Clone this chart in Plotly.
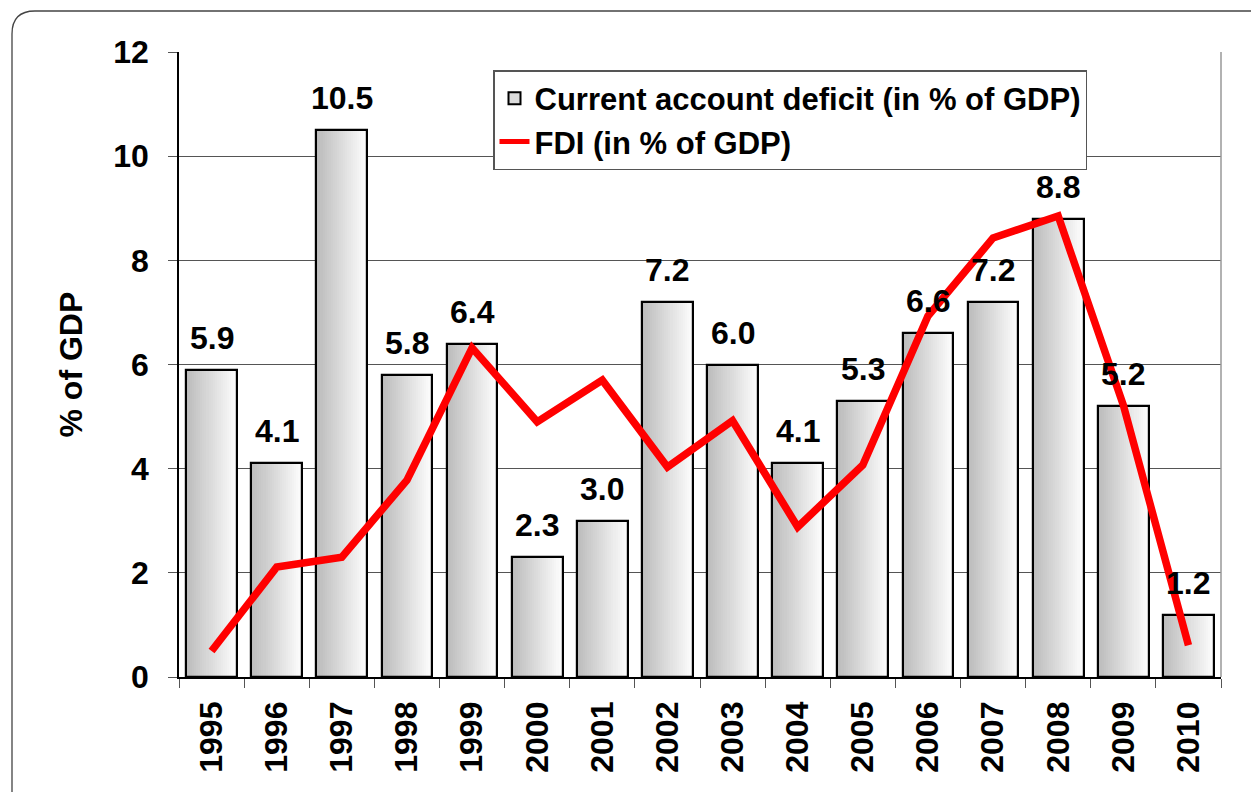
import plotly.graph_objects as go

years = ["1995", "1996", "1997", "1998", "1999", "2000", "2001", "2002",
         "2003", "2004", "2005", "2006", "2007", "2008", "2009", "2010"]
ca_deficit = [5.9, 4.1, 10.5, 5.8, 6.4, 2.3, 3.0, 7.2, 6.0, 4.1, 5.3, 6.6, 7.2, 8.8, 5.2, 1.2]
fdi = [0.5, 2.11, 2.3, 3.78, 6.32, 4.9, 5.7, 4.03, 4.92, 2.88, 4.07, 6.93, 8.43, 8.85, 5.22, 0.61]
y_ticks = [0, 2, 4, 6, 8, 10, 12]

FONT = "Liberation Sans, Arial, sans-serif"
W = 0.78       # bar width (category units)
N = 25         # gradient strips

# plot area in pixels
L, R, T, B = 179, 1221, 52, 677
WIDTH, HEIGHT = 1254, 792


def px(xp):
    return (xp - L) / (R - L)


def py(yp):
    return (B - yp) / (B - T)


fig = go.Figure()

# gradient bars: narrow vertical strips, dark (left) -> light (right)
dark, light = 188, 253
s = W / N
for k in range(N):
    t = k / (N - 1)
    c = round(dark + (light - dark) * t)
    fig.add_trace(go.Bar(
        x=years, y=ca_deficit,
        width=min(1.6 * s, W - k * s), offset=-W / 2 + k * s,
        marker=dict(color=f"rgb({c},{c},{c})", line=dict(width=0)),
        showlegend=False, hoverinfo="skip",
    ))

# outline
fig.add_trace(go.Bar(
    x=years, y=ca_deficit, width=W, offset=-W / 2,
    marker=dict(color="rgba(0,0,0,0)", line=dict(color="black", width=2.2)),
    showlegend=False, hoverinfo="skip",
))

# legend-only entry for bars
fig.add_trace(go.Bar(
    x=[years[0]], y=[None], name="Current account deficit (in % of GDP)",
    marker=dict(color="#dcdcdc", line=dict(color="black", width=1.5)),
    legendrank=1,
))

fig.add_trace(go.Scatter(
    x=years, y=fdi, mode="lines", name="FDI (in % of GDP)",
    line=dict(color="#ff0000", width=7.5), legendrank=2,
))

annotations = []
for i, v in enumerate(ca_deficit):
    annotations.append(dict(
        x=i, y=v, xref="x", yref="y", text=f"<b>{v:.1f}</b>", showarrow=False,
        xanchor="center", yanchor="bottom", yshift=12,
        font=dict(family=FONT, size=32, color="black"),
    ))

annotations.append(dict(
    x=px(70), y=0.5, xref="paper", yref="paper", text="<b>% of GDP</b>",
    textangle=-90, showarrow=False, xanchor="center", yanchor="middle",
    font=dict(family=FONT, size=32, color="black"),
))

shapes = [
    # rounded outer frame (top-left corner)
    dict(type="path", xref="paper", yref="paper",
         path=(f"M {px(12)},{py(800)} L {px(12)},{py(34)} "
               f"Q {px(12)},{py(11)} {px(35)},{py(11)} L {px(1251)},{py(11)}"),
         line=dict(color="#444", width=1.3)),
    # right border of plot area
    dict(type="line", xref="paper", yref="paper", x0=1, x1=1, y0=0, y1=1,
         line=dict(color="#999", width=1.5)),
]

fig.update_layout(
    width=WIDTH, height=HEIGHT,
    margin=dict(l=L, r=WIDTH - R, t=T, b=HEIGHT - B, autoexpand=False),
    paper_bgcolor="white", plot_bgcolor="white",
    barmode="overlay", bargap=0,
    font=dict(family=FONT, size=32, color="black"),
    showlegend=True,
    legend=dict(
        x=px(493), y=py(70), xanchor="left", yanchor="top",
        bgcolor="white", bordercolor="#555", borderwidth=1.5,
        font=dict(family=FONT, size=31, color="black", weight="bold"),
        traceorder="normal", tracegroupgap=0, itemsizing="constant",
    ),
    annotations=annotations,
    shapes=shapes,
)

fig.update_xaxes(
    type="category", categoryorder="array", categoryarray=years,
    tickson="boundaries", ticks="outside", ticklen=9, tickcolor="#555",
    tickangle=-90, ticklabelstandoff=10,
    tickfont=dict(family=FONT, size=32, color="black", weight="bold"),
    showline=True, linecolor="black", linewidth=1.5,
    showgrid=False, automargin=False, range=[-0.5, 15.5],
)
fig.update_yaxes(
    range=[0, 12], tickvals=y_ticks, ticks="outside", ticklen=9, tickcolor="#555",
    ticklabelstandoff=13,
    tickfont=dict(family=FONT, size=32, color="black", weight="bold"),
    showline=True, linecolor="black", linewidth=1.5,
    showgrid=True, gridcolor="#555", gridwidth=1, zeroline=False,
    automargin=False,
)

fig.write_html("out.html", config={"displayModeBar": False},
               post_script="document.body.style.margin='0';")
